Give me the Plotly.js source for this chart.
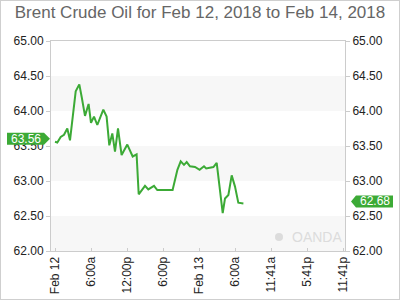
<!DOCTYPE html>
<html>
<head>
<meta charset="utf-8">
<script src="https://cdn.plot.ly/plotly-3.0.1.min.js"></script>
<style>
html,body{margin:0;padding:0;background:#fff;}
#wrap{position:relative;width:400px;height:300px;}
#frame{position:absolute;left:0;top:0;width:400px;height:300px;box-sizing:border-box;border:1px solid #cfcfcf;pointer-events:none;}
</style>
</head>
<body>
<div id="wrap"><div id="chart" style="width:400px;height:300px;"></div><div id="frame"></div></div>
<script>
var times = [
  '2018-02-12 00:00','2018-02-12 00:23','2018-02-12 00:57','2018-02-12 01:30','2018-02-12 02:03',
  '2018-02-12 02:30','2018-02-12 03:27','2018-02-12 04:03','2018-02-12 04:27','2018-02-12 05:00',
  '2018-02-12 05:36','2018-02-12 06:00','2018-02-12 06:30','2018-02-12 07:03','2018-02-12 08:03',
  '2018-02-12 08:36','2018-02-12 09:03','2018-02-12 09:33','2018-02-12 10:00','2018-02-12 10:30',
  '2018-02-12 11:06','2018-02-12 12:03','2018-02-12 12:57','2018-02-12 13:36','2018-02-12 13:57',
  '2018-02-12 14:20','2018-02-12 15:00','2018-02-12 15:33','2018-02-12 16:30','2018-02-12 17:03',
  '2018-02-12 19:36','2018-02-12 20:24','2018-02-12 20:57','2018-02-12 21:30','2018-02-12 21:57',
  '2018-02-12 22:30','2018-02-12 23:20','2018-02-13 00:06','2018-02-13 00:50','2018-02-13 01:12',
  '2018-02-13 02:24','2018-02-13 02:57','2018-02-13 03:57','2018-02-13 04:20','2018-02-13 04:54',
  '2018-02-13 05:27','2018-02-13 06:00','2018-02-13 06:33','2018-02-13 07:24'
];
var prices = [
  63.56,63.55,63.63,63.66,63.75,
  63.58,64.28,64.38,64.20,63.93,
  64.10,63.83,63.92,63.80,64.02,
  63.92,63.51,63.68,63.42,63.75,
  63.37,63.52,63.35,63.38,62.81,
  62.86,62.93,62.88,62.93,62.87,
  62.87,63.16,63.28,63.23,63.27,
  63.21,63.20,63.16,63.21,63.18,
  63.20,63.26,62.54,62.75,62.80,
  63.08,62.92,62.69,62.68
];
var xTickVals = ['2018-02-12 00:00','2018-02-12 06:00','2018-02-12 12:00','2018-02-12 18:00',
  '2018-02-13 00:00','2018-02-13 06:00','2018-02-13 12:00','2018-02-13 18:00','2018-02-14 00:00'];
var xTickText = ['Feb 12','6:00a','12:00p','6:00p','Feb 13','6:00a','11:41a','5:41p','11:41p'];
var yTickVals = [62.0,62.5,63.0,63.5,64.0,64.5,65.0];
var yTickText = ['62.00','62.50','63.00','63.50','64.00','64.50','65.00'];
var bandLows = [62.0,63.0,64.0];
var firstLabel = '63.56';
var lastLabel = '62.68';

var green = '#3caa36';
var font = 'Liberation Sans, Arial, sans-serif';

var shapes = [];
bandLows.forEach(function(b){
  shapes.push({type:'rect', xref:'paper', yref:'y', x0:0, x1:1, y0:b, y1:b+0.5,
    fillcolor:'#f7f7f7', line:{width:0}, layer:'below'});
});
var firstVal = prices[0], lastVal = prices[prices.length-1];
shapes.push({type:'path', xref:'paper', yref:'y', xsizemode:'pixel', ysizemode:'pixel',
  xanchor:0, yanchor:firstVal, path:'M-44,9 L-7,9 L-1,3 L-7,-3 L-44,-3 Z',
  fillcolor:green, line:{width:0}});
shapes.push({type:'path', xref:'paper', yref:'y', xsizemode:'pixel', ysizemode:'pixel',
  xanchor:1, yanchor:lastVal, path:'M48,8 L11,8 L6,2 L11,-4 L48,-4 Z',
  fillcolor:green, line:{width:0}});
shapes.push({type:'circle', xref:'paper', yref:'paper', xsizemode:'pixel', ysizemode:'pixel',
  xanchor:1, yanchor:0.067, x0:-70, x1:-62, y0:-4, y1:4, fillcolor:'#dcdcdc', line:{width:0}});

var data = [
  {x:times, y:prices, type:'scatter', mode:'lines', line:{color:green, width:2}, hoverinfo:'skip'},
  {x:[times[0]], y:[firstVal], type:'scatter', mode:'markers', yaxis:'y2', marker:{opacity:0}, hoverinfo:'skip', showlegend:false}
];

var yax = {
  range:[62,65], tickvals:yTickVals, ticktext:yTickText, showgrid:false, zeroline:false,
  showline:true, linecolor:'#cccccc', linewidth:1, mirror:true,
  ticks:'outside', ticklen:4, tickcolor:'#cccccc',
  tickfont:{family:font, size:12, color:'#222'}, fixedrange:true
};
var yax2 = Object.assign({}, yax, {overlaying:'y', side:'right', showline:false, mirror:false});

var layout = {
  width:400, height:300,
  margin:{l:51, r:55, t:41, b:49},
  paper_bgcolor:'#ffffff', plot_bgcolor:'#ffffff',
  showlegend:false,
  title:{text:'Brent Crude Oil for Feb 12, 2018 to Feb 14, 2018', font:{family:font, size:17, color:'#666666'},
    x:0.5, xanchor:'center', y:0.96, yanchor:'middle'},
  xaxis:{type:'date', range:['2018-02-11 23:20','2018-02-14 00:20'], tickvals:xTickVals, ticktext:xTickText,
    tickangle:-90, showgrid:false, zeroline:false, showline:true, linecolor:'#cccccc', mirror:true,
    ticks:'inside', ticklen:3, tickcolor:'#cccccc', tickfont:{family:font, size:12, color:'#222'}},
  yaxis:yax,
  yaxis2:yax2,
  shapes:shapes,
  annotations:[
    {xref:'paper', yref:'y', x:0, y:firstVal, xanchor:'center', yanchor:'middle', xshift:-25.5, yshift:3,
     text:firstLabel, showarrow:false, font:{family:font, size:12, color:'#ffffff'}},
    {xref:'paper', yref:'y', x:1, y:lastVal, xanchor:'center', yanchor:'middle', xshift:29.5, yshift:2,
     text:lastLabel, showarrow:false, font:{family:font, size:12, color:'#ffffff'}},
    {xref:'paper', yref:'paper', x:1, y:0.067, xanchor:'right', yanchor:'middle', xshift:-1,
     text:'OANDA', showarrow:false, font:{family:font, size:14, color:'#dcdcdc'}}
  ]
};
Plotly.newPlot('chart', data, layout, {staticPlot:true, displayModeBar:false});
</script>
</body>
</html>
